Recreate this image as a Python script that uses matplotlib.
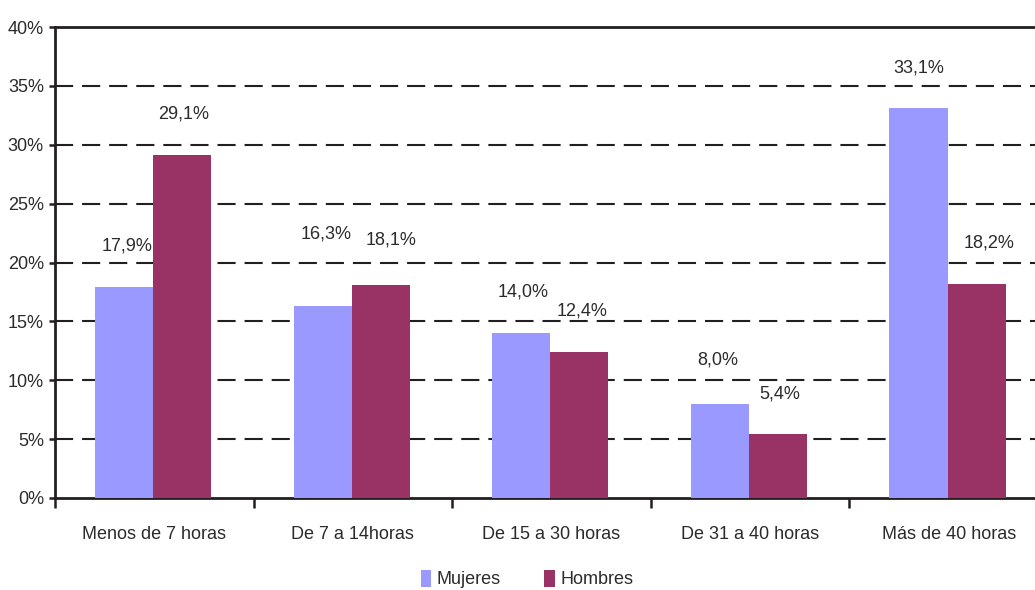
import matplotlib
matplotlib.use("Agg")
import matplotlib.pyplot as plt
import numpy as np
from matplotlib.ticker import FixedLocator, FuncFormatter

plt.rcParams['font.family'] = ['Liberation Sans', 'DejaVu Sans']

categories = ["Menos de 7 horas", "De 7 a 14horas", "De 15 a 30 horas",
              "De 31 a 40 horas", "Más de 40 horas"]
mujeres = [17.9, 16.3, 14.0, 8.0, 33.1]
hombres = [29.1, 18.1, 12.4, 5.4, 18.2]
series_names = ["Mujeres", "Hombres"]
yticks = [0, 5, 10, 15, 20, 25, 30, 35, 40]

# styling
c_muj = "#9999FF"
c_hom = "#993366"
txt = "#2b2b2b"
dark = "#231F20"
fs = 13
# label offsets in pixels (dx, dy) relative to bar top center
off_muj = [(3.5, 41), (3.5, 72), (2, 41), (-2, 44), (0, 40)]
off_hom = [(1.5, 41), (10, 45), (2.5, 41), (1.5, 40), (12.5, 41)]

fig = plt.figure(figsize=(10.35, 5.9), dpi=100)
ax = fig.add_axes([55/1035, (590-498)/590, 993/1035, 471/590])

x = np.arange(len(categories))
w = 0.293
sh = -0.006
b1 = ax.bar(x - w/2 + sh, mujeres, width=w, color=c_muj, label=series_names[0], zorder=3)
b2 = ax.bar(x + w/2 + sh, hombres, width=w, color=c_hom, label=series_names[1], zorder=3)

def fmt(v):
    return f"{v:.1f}".replace('.', ',') + '%'

for bars, vals, offs in ((b1, mujeres, off_muj), (b2, hombres, off_hom)):
    for r, v, (dx, dy) in zip(bars, vals, offs):
        ax.annotate(fmt(v), (r.get_x() + r.get_width()/2, r.get_height()),
                    xytext=(dx, dy), textcoords='offset pixels',
                    ha='center', va='center', fontsize=fs, color=txt, zorder=4)

ax.set_ylim(0, 40)
ax.set_xlim(-0.5, len(categories) - 0.5)

ax.yaxis.set_major_locator(FixedLocator(yticks))
ax.yaxis.set_major_formatter(FuncFormatter(lambda v, p: f"{v:.0f}%"))

for t in yticks[1:-1]:
    ax.axhline(t, color=dark, lw=1.5, linestyle=(0, (8.7, 4.3)), zorder=1)

ax.xaxis.set_major_locator(FixedLocator(np.arange(len(categories) + 1) - 0.5))
ax.xaxis.set_major_formatter(FuncFormatter(lambda v, p: ""))
ax.xaxis.set_minor_locator(FixedLocator(x))
ax.set_xticklabels(categories, minor=True)
ax.tick_params(axis='x', which='major', length=7, width=1.8, color=dark, direction='out')
ax.tick_params(axis='x', which='minor', length=0, pad=20, labelsize=fs, labelcolor=txt)
ax.tick_params(axis='y', which='major', length=4, width=1.8, color=dark, pad=4,
               labelsize=fs, labelcolor=txt)

for s in ['left', 'bottom', 'top']:
    ax.spines[s].set_color(dark)
    ax.spines[s].set_linewidth(2.0)
ax.spines['right'].set_visible(False)

fig.legend(handles=[b1, b2], labels=series_names, loc='center',
           bbox_to_anchor=(527/1035, 11/590), ncol=2, frameon=False,
           fontsize=fs, handlelength=0.6, handleheight=1.1,
           handletextpad=0.3, columnspacing=2.4, labelcolor=txt,
           borderpad=0.1)

fig.savefig("out.png", dpi=100)
